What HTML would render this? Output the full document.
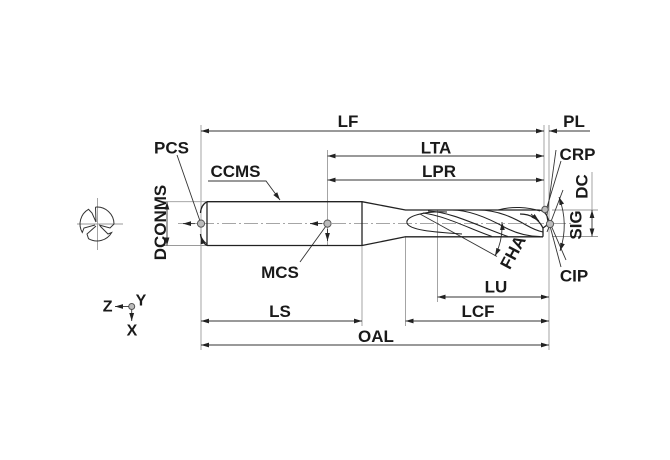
<!DOCTYPE html>
<html><head><meta charset="utf-8"><style>
html,body{margin:0;padding:0;background:#fff;}
svg{display:block;}
text{font-family:"Liberation Sans",Arial,sans-serif;font-weight:bold;fill:#1a1a1a;}
</style></head><body>
<svg width="670" height="460" viewBox="0 0 670 460" xmlns="http://www.w3.org/2000/svg">
<defs>
<marker id="a" markerWidth="8" markerHeight="6" refX="8" refY="3" orient="auto-start-reverse" markerUnits="userSpaceOnUse"><path d="M0,0.6 L8,3 L0,5.4z" fill="#222"/></marker>
</defs>
<rect width="670" height="460" fill="#fff"/>

<!-- extension lines -->
<g stroke="#9a9a9a" stroke-width="0.9" fill="none">
<line x1="201" y1="125" x2="201" y2="350"/>
<line x1="327.5" y1="150" x2="327.5" y2="246"/>
<line x1="362" y1="246" x2="362" y2="326"/>
<line x1="405.5" y1="237" x2="405.5" y2="326"/>
<line x1="437.5" y1="210" x2="437.5" y2="302"/>
<line x1="544" y1="125" x2="544" y2="208"/>
<line x1="549" y1="125" x2="549" y2="350"/>
<line x1="163" y1="201.7" x2="207" y2="201.7"/>
<line x1="163" y1="245.5" x2="207" y2="245.5"/>
<line x1="552" y1="210" x2="598" y2="210"/>
<line x1="552" y1="236.5" x2="598" y2="236.5"/>
<line x1="592" y1="172" x2="592" y2="210"/>
<!-- centerline -->
<line x1="178" y1="223.6" x2="572" y2="223.6" stroke-dasharray="14,3,2,3"/>
<!-- end view crosshair -->
<line x1="77" y1="224" x2="123" y2="224"/>
<line x1="97.5" y1="198" x2="97.5" y2="250"/>
</g>

<!-- dimension lines -->
<g stroke="#333" stroke-width="0.9" fill="none" marker-start="url(#a)" marker-end="url(#a)">
<line x1="201" y1="131" x2="544" y2="131"/>
<line x1="327.5" y1="156" x2="544" y2="156"/>
<line x1="327.5" y1="180" x2="544" y2="180"/>
<line x1="437.5" y1="297" x2="549" y2="297"/>
<line x1="201" y1="321" x2="362" y2="321"/>
<line x1="405.5" y1="321" x2="549" y2="321"/>
<line x1="201" y1="345" x2="549" y2="345"/>
<line x1="167" y1="201.7" x2="167" y2="245.5"/>
<line x1="592" y1="210" x2="592" y2="236.5"/>
</g>
<g stroke="#333" stroke-width="0.9" fill="none">
<line x1="549" y1="131" x2="590" y2="131" marker-start="url(#a)"/>
<!-- leaders -->
<line x1="177" y1="155" x2="200" y2="221"/>
<polyline points="208,181 266,181 280,200" marker-end="url(#a)"/>
<line x1="300" y1="262" x2="326" y2="226"/>
<line x1="561" y1="161" x2="545.5" y2="212"/>
<line x1="556" y1="150" x2="547" y2="215"/>
<line x1="550" y1="226" x2="561" y2="267"/>
<!-- SIG point angle lines -->
<line x1="547" y1="232" x2="563" y2="190"/>
<line x1="547" y1="216" x2="566" y2="260"/>
<path d="M559,197 Q569,224 560,251" marker-start="url(#a)" marker-end="url(#a)"/>
<!-- FHA -->
<line x1="420" y1="214" x2="497" y2="256.5"/>
<path d="M502,222 Q503,240 495,256" marker-start="url(#a)" marker-end="url(#a)"/>
<!-- small axis arrows on centerline -->
<line x1="195" y1="223.6" x2="183" y2="223.6" marker-end="url(#a)"/>
<line x1="322" y1="223.6" x2="310" y2="223.6" marker-end="url(#a)"/>
<line x1="327.5" y1="229" x2="327.5" y2="241" marker-end="url(#a)"/>
<path d="M207,244 Q202,240 201,236" marker-end="url(#a)"/>
<line x1="531" y1="214" x2="539" y2="221" marker-end="url(#a)"/>
</g>

<!-- tool outline -->
<g stroke="#222" stroke-width="1.3" fill="none" stroke-linejoin="round">
<path d="M207,201.7 L362,201.7 L405.5,210 L538,210"/>
<path d="M207,245.5 L362,245.5 L405.5,236.8 L543,236.8"/>
<line x1="207" y1="201.7" x2="207" y2="245.5"/>
<line x1="362" y1="201.7" x2="362" y2="245.5"/>
<path d="M207,201.7 Q201,205 200.5,213"/>
<path d="M207,245.5 Q201,242 200.5,234"/>
<!-- tip -->
<path d="M538,210 C542,210 545,212 547,216 L548.5,224 L543,228 L543,236.8"/>
<path d="M520,214 C530,214 538,218 543,228"/>
<!-- helix -->
<path d="M447,212 C425,211 405,216 407,223 C409,230 432,232 462,234" stroke-width="1.1"/>
<path d="M428,211 C452,212 478,226 508,236.5" stroke-width="1.1"/>
<path d="M423,213 C446,216 470,229 492,236.5" stroke-width="1"/>
<path d="M452,210 C470,210 490,219 506,228 C518,234 528,236.5 540,236.5" stroke-width="1.1"/>
<path d="M478,210 C498,210 514,218 526,225 C533,229 538,231 543,232" stroke-width="1.1"/>
<path d="M498,210 C512,206 528,207 540,211" stroke-width="1"/>
</g>

<!-- reference point circles -->
<g stroke="#555" stroke-width="1" fill="#bbb">
<circle cx="201" cy="223.6" r="3.6"/>
<circle cx="327.5" cy="223.6" r="3.6"/>
<circle cx="545" cy="209.5" r="3.2"/>
<circle cx="550" cy="224" r="3.6"/>
<circle cx="131.7" cy="306.5" r="3"/>
</g>

<!-- end view -->
<g stroke="#333" stroke-width="1" fill="none">
<path d="M95.5,207.1 A17,17 0 0 1 114,224 L110,228 L99,225"/>
<path d="M100,226 L108,234 L111.7,232.5 A17,17 0 0 1 88.5,238.7 L87,234 L96,226"/>
<path d="M95,225 L84,228 L82.3,232.5 A17,17 0 0 1 88.5,209.3 L92,213 L96,222"/>
<path d="M96,222 L95.5,207.1"/>
</g>

<!-- axis icon -->
<g stroke="#333" stroke-width="0.9" fill="none">
<line x1="128.7" y1="306.5" x2="115" y2="306.5" marker-end="url(#a)"/>
<line x1="131.7" y1="309.5" x2="131.7" y2="321" marker-end="url(#a)"/>
</g>

<!-- labels -->
<g font-size="17" text-anchor="middle">
<text x="348" y="127">LF</text>
<text x="574" y="127">PL</text>
<text x="436" y="153.5">LTA</text>
<text x="439" y="177">LPR</text>
<text x="577.5" y="160">CRP</text>
<text x="574" y="281.5">CIP</text>
<text x="496" y="292.5">LU</text>
<text x="280" y="278">MCS</text>
<text x="280" y="317">LS</text>
<text x="478" y="317">LCF</text>
<text x="376" y="342">OAL</text>
<text x="171.5" y="153.5">PCS</text>
<text x="235.5" y="177">CCMS</text>
<text transform="translate(166,222.5) rotate(-90)" y="0">DCONMS</text>
<text transform="translate(587.5,186.5) rotate(-90)">DC</text>
<text transform="translate(581.5,225) rotate(-90)">SIG</text>
<text transform="translate(518,255) rotate(-62)">FHA</text>
</g>
<g font-size="16" text-anchor="middle">
<text x="107.7" y="311.7">Z</text>
<text x="141" y="305.7">Y</text>
<text x="132" y="335.7">X</text>
</g>
</svg>
</body></html>
